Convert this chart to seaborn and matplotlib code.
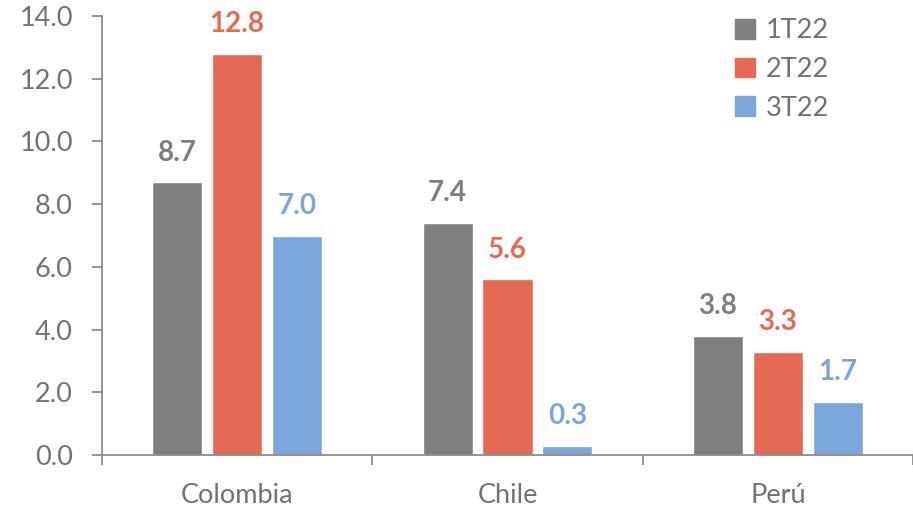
import matplotlib
matplotlib.use("Agg")
import matplotlib.pyplot as plt
import seaborn as sns
import pandas as pd
from matplotlib.ticker import FixedLocator, NullFormatter
from matplotlib.patches import Patch

categories = ["Colombia", "Chile", "Perú"]
series = ["1T22", "2T22", "3T22"]
values_1t22 = [8.7, 7.4, 3.8]
values_2t22 = [12.8, 5.6, 3.3]
values_3t22 = [7.0, 0.3, 1.7]
yticks = [0, 2, 4, 6, 8, 10, 12, 14]
colors = ["#7F7F7F", "#E46A54", "#7AA6DB"]

rows = []
for s, vals in zip(series, [values_1t22, values_2t22, values_3t22]):
    for c, v in zip(categories, vals):
        rows.append({"cat": c, "serie": s, "val": v})
df = pd.DataFrame(rows)

sns.set_style("white")
plt.rcParams["font.family"] = ["Lato", "DejaVu Sans"]

fig = plt.figure(figsize=(9.13, 5.09), dpi=100)
ax = fig.add_axes([102/913, 1-455/509, 1-102/913, (455-16)/509])

sns.barplot(data=df, x="cat", y="val", hue="serie", order=categories,
            hue_order=series, palette=colors, width=0.664, gap=0.163,
            saturation=1, ax=ax, legend=False)

for container, col in zip(ax.containers, colors):
    for bar in container:
        h = bar.get_height()
        ax.annotate(f"{h:.1f}", (bar.get_x() + bar.get_width()/2, h),
                    xytext=(0, 12), textcoords="offset points",
                    ha="center", va="bottom", fontsize=20,
                    fontweight="bold", color=col)

ax.set_xlim(-0.5, 2.5)
ax.set_ylim(0, 14)
ax.set_yticks(yticks)
ax.set_yticklabels([f"{t:.1f}" for t in yticks])
ax.set_xlabel("")
ax.set_ylabel("")

axcol = "#8C8C8C"
for side in ["top", "right"]:
    ax.spines[side].set_visible(False)
for side in ["left", "bottom"]:
    ax.spines[side].set_color(axcol)
    ax.spines[side].set_linewidth(1.3)

ax.tick_params(axis="y", length=7, width=1.3, color=axcol, labelcolor="#727272",
               labelsize=19.5, pad=14, left=True)
ax.tick_params(axis="x", which="major", length=0, labelcolor="#727272",
               labelsize=19.5, pad=20)
ax.xaxis.set_minor_locator(FixedLocator([-0.5, 0.5, 1.5, 2.5]))
ax.xaxis.set_minor_formatter(NullFormatter())
ax.tick_params(axis="x", which="minor", length=7, width=1.3, color=axcol, bottom=True)

handles = [Patch(facecolor=c, edgecolor=c) for c in colors]
leg = ax.legend(handles, series, loc="upper right", bbox_to_anchor=(0.927, 1.05),
                frameon=False, fontsize=19.5, handlelength=0.75, handleheight=0.75,
                handletextpad=0.4, labelspacing=0.5)
for t in leg.get_texts():
    t.set_color("#727272")

fig.savefig("out.png", dpi=100)
